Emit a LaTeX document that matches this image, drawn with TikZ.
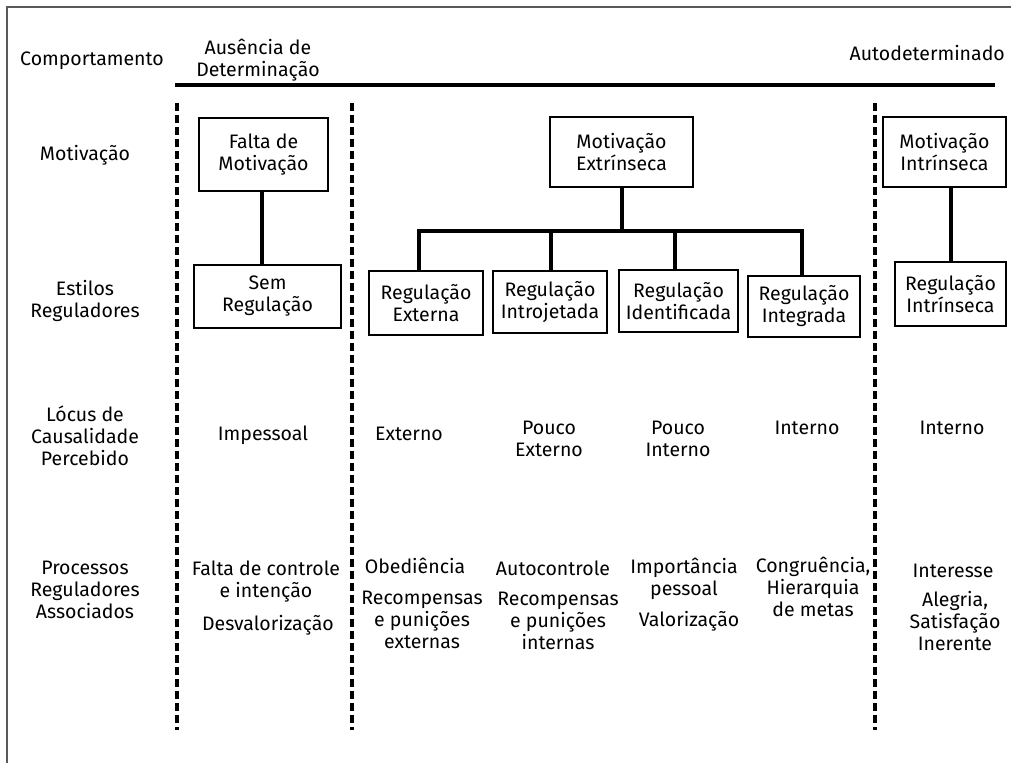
\documentclass[tikz,border=0pt]{standalone}
\usepackage{fontspec}
\setmainfont{Fira Sans}
\begin{document}
\begin{tikzpicture}[x=1pt,y=-1pt,
  lbl/.style={align=center, inner sep=0pt, font=\fontsize{19.5}{22}\selectfont},
  box/.style={draw, line width=1.9pt, align=center, inner sep=0pt, font=\fontsize{19.5}{22}\selectfont},
  conn/.style={line width=3.2pt},
  sepline/.style={line width=3.3pt, dash pattern=on 8pt off 4pt},
  frameline/.style={draw=black!65, line width=1.5pt}]
\useasboundingbox (0,0) rectangle (1011,763);
\fill[white] (0,0) rectangle (1011,763);
% frame
\coordinate (f0) at (7,763);
\coordinate (f1) at (7,7);
\coordinate (f2) at (1011,7);
\draw[frameline] (f0) -- (f1) -- (f2);

% header
\node[lbl] (comp) at (92,61) {Comportamento};
\node[lbl] (aus) at (258,60) {Ausência de\\Determinação};
\node[lbl, anchor=east] (auto) at (1005,53) {Autodeterminado};
\coordinate (h0) at (175,85);
\coordinate (h1) at (995,85);
\draw[conn] (h0) -- (h1);

% dashed separators
\coordinate (d1a) at (177,103); \coordinate (d1b) at (177,730);
\coordinate (d2a) at (352,103); \coordinate (d2b) at (352,730);
\coordinate (d3a) at (875,103); \coordinate (d3b) at (875,730);
\draw[sepline] (d1a) -- (d1b);
\draw[sepline] (d2a) -- (d2b);
\draw[sepline] (d3a) -- (d3b);

% row labels
\node[lbl] (rmot) at (85,155) {Motivação};
\node[lbl] (rest) at (85,301) {Estilos\\Reguladores};
\node[lbl] (rloc) at (85,436) {Lócus de\\Causalidade\\Percebido};
\node[lbl] (rproc) at (85,590) {Processos\\Reguladores\\Associados};

% boxes
\node[box, minimum width=129, minimum height=73] (fm) at (263.5,154.5) {Falta de\\Motivação};
\node[box, minimum width=147, minimum height=63] (sr) at (267.5,296.5) {Sem\\Regulação};
\node[box, minimum width=143, minimum height=70] (me) at (621.5,152) {Motivação\\Extrínseca};
\node[box, minimum width=114, minimum height=64] (re) at (426,303) {Regulação\\Externa};
\node[box, minimum width=114, minimum height=62] (ri) at (550,302) {Regulação\\Introjetada};
\node[box, minimum width=119, minimum height=62] (rid) at (678.5,301) {Regulação\\Identificada};
\node[box, minimum width=112, minimum height=61] (rin) at (804,306.5) {Regulação\\Integrada};
\node[box, minimum width=123, minimum height=70] (mi) at (944.5,152) {Motivação\\Intrínseca};
\node[box, minimum width=111, minimum height=64] (rint) at (950.5,294) {Regulação\\Intrínseca};

% connectors
\coordinate (c1) at (262,0);
\draw[conn] (c1 |- fm.south) -- (c1 |- sr.north);
\coordinate (bus) at (622,231);
\coordinate (b1) at (419,231);
\coordinate (b2) at (551,231);
\coordinate (b3) at (675,231);
\coordinate (b4) at (802,231);
\draw[conn] (me.south -| bus) -- (bus);
\draw[conn] ([xshift=-1.6pt]b1) -- ([xshift=1.6pt]b4);
\draw[conn] ([yshift=-1.6pt]b1) -- (b1 |- re.north);
\draw[conn] (b2) -- (b2 |- ri.north);
\draw[conn] (b3) -- (b3 |- rid.north);
\draw[conn] ([yshift=-1.6pt]b4) -- (b4 |- rin.north);
\coordinate (c2) at (951,0);
\draw[conn] (c2 |- mi.south) -- (c2 |- rint.north);

% locus row
\node[lbl] (l1) at (263,435) {Impessoal};
\node[lbl] (l2) at (409,434) {Externo};
\node[lbl] (l3) at (549,439) {Pouco\\Externo};
\node[lbl] (l4) at (678,439) {Pouco\\Interno};
\node[lbl] (l5) at (807,428) {Interno};
\node[lbl] (l6) at (952,428) {Interno};

% processes row
\node[lbl] (p1a) at (266,582) {Falta de controle\\e intenção};
\node[lbl] (p1b) at (268,625) {Desvalorização};
\node[lbl] (p2a) at (415,566) {Obediência};
\node[lbl] (p2b) at (422,620) {Recompensas\\e punições\\externas};
\node[lbl] (p3a) at (553,568) {Autocontrole};
\node[lbl] (p3b) at (558,621) {Recompensas\\e punições\\internas};
\node[lbl] (p4a) at (684,579) {Importância\\pessoal};
\node[lbl] (p4b) at (689,621) {Valorização};
\node[lbl] (p5) at (813,587) {Congruência,\\Hierarquia\\de metas};
\node[lbl] (p6a) at (953,571) {Interesse};
\node[lbl] (p6b) at (955,621) {Alegria,\\Satisfação\\Inerente};
\end{tikzpicture}
\end{document}
